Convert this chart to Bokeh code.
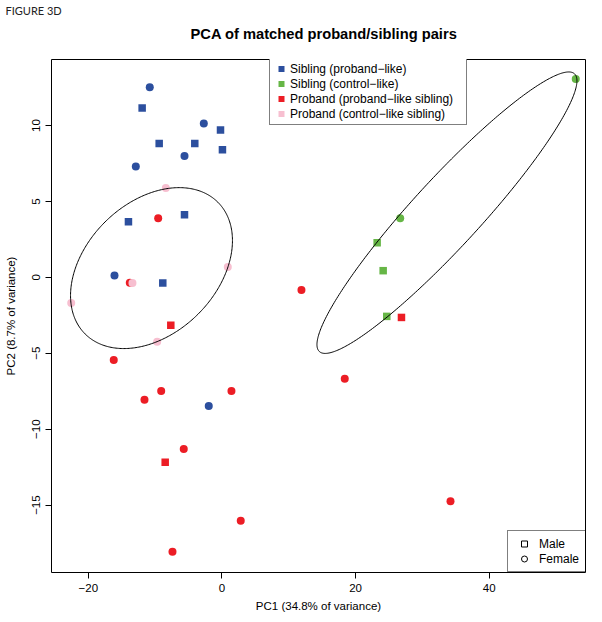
import numpy as np
import pandas as pd
from bokeh.plotting import figure
from bokeh.models import Range1d, FixedTicker, Legend, LegendItem, Title, ColumnDataSource
from bokeh.embed import file_html
from bokeh.resources import INLINE

# ---------------- data ----------------
pc1 = [
    # Sibling (proband-like)
    -10.81, -11.95, -2.72, -0.22, -9.40, -4.07, 0.07, -5.61, -12.90, -5.61, -14.00, -16.09, -8.86, -1.98,
    # Sibling (control-like)
    52.96, 26.68, 23.23, 24.13, 24.67,
    # Proband (proband-like sibling)
    -9.55, -13.80, -7.66, -16.20, -9.10, 1.42, -11.60, -5.72, -8.50, 2.81, -7.41, 26.87, 11.90, 18.38, 34.21,
    # Proband (control-like sibling)
    -8.41, 0.87, -13.40, -22.57, -9.70,
]
pc2 = [
    12.52, 11.15, 10.14, 9.71, 8.81, 8.81, 8.41, 7.99, 7.31, 4.13, 3.67, 0.13, -0.37, -8.48,
    13.06, 3.89, 2.28, 0.44, -2.57,
    3.89, -0.35, -3.16, -5.45, -7.49, -7.49, -8.06, -11.31, -12.17, -16.03, -18.08, -2.64, -0.84, -6.68, -14.74,
    5.88, 0.68, -0.37, -1.69, -4.24,
]
group = (["sib_pl"] * 14) + (["sib_cl"] * 5) + (["pro_pl"] * 15) + (["pro_cl"] * 5)
sex = [
    "F", "M", "F", "M", "M", "M", "M", "F", "F", "M", "M", "F", "M", "F",
    "F", "F", "M", "M", "M",
    "F", "F", "M", "F", "F", "F", "F", "F", "M", "F", "F", "M", "F", "F", "F",
    "F", "F", "F", "F", "F",
]

group_keys = ["sib_pl", "sib_cl", "pro_pl", "pro_cl"]
group_labels = [
    "Sibling (proband\u2212like)",
    "Sibling (control\u2212like)",
    "Proband (proband\u2212like sibling)",
    "Proband (control\u2212like sibling)",
]
group_colors = ["#2C4F9E", "#66B646", "#EC1D25", "#F7BFD0"]

sex_keys = ["M", "F"]
sex_labels = ["Male", "Female"]
sex_markers = ["square", "circle"]

# data ellipses: centre, spread along PC1/PC2 and correlation
ell_cx = [-10.55, 33.68]
ell_cy = [0.61, 4.26]
ell_sx = [12.12, 19.46]
ell_sy = [5.30, 9.27]
ell_r = [0.342, 0.937]

x_ticks = [-20, 0, 20, 40]
y_ticks = [-15, -10, -5, 0, 5, 10]

title_text = "PCA of matched proband/sibling pairs"
figure_tag = "FIGURE 3D"
x_label = "PC1 (34.8% of variance)"
y_label = "PC2 (8.7% of variance)"

# ---------------- figure ----------------
df = pd.DataFrame({"pc1": pc1, "pc2": pc2, "group": group, "sex": sex})

FONT = "Liberation Sans"

p = figure(
    width=586, height=614,
    output_backend="svg", toolbar_location=None,
    x_range=Range1d(-25.52, 54.42), y_range=Range1d(-19.44, 14.35),
    min_border_left=51, min_border_right=1, min_border_top=59, min_border_bottom=42,
    title=figure_tag,
)
p.background_fill_color = "white"
p.border_fill_color = "white"
p.grid.visible = False
p.outline_line_color = "black"
p.outline_line_width = 1

# outer title: the figure tag at the top-left corner
p.title.text_font = "Lato"
p.title.text_font_size = "11px"
p.title.text_font_style = "normal"
p.title.text_color = "#222222"
p.title.align = "left"
p.title.offset = -46
p.title.standoff = -15

# inner title: the chart title (placed where the reference has it)
p.add_layout(Title(text=title_text, align="left", offset=139, vertical_align="top", standoff=32,
                   text_font=FONT, text_font_size="14.7px", text_font_style="bold",
                   text_color="black"), "above")

p.xaxis.ticker = FixedTicker(ticks=x_ticks)
p.yaxis.ticker = FixedTicker(ticks=y_ticks)
p.xaxis.major_label_overrides = {t: str(t).replace("-", "\u2212") for t in x_ticks}
p.yaxis.major_label_overrides = {t: str(t).replace("-", "\u2212") for t in y_ticks}
p.axis.axis_line_color = None
p.axis.minor_tick_line_color = None
p.axis.major_tick_out = 6
p.axis.major_tick_in = 0
p.axis.major_tick_line_color = "black"
p.axis.major_label_text_font = FONT
p.axis.major_label_text_font_size = "11.5px"
p.axis.major_label_text_color = "black"
p.xaxis.major_label_standoff = 5
p.yaxis.major_label_standoff = 5
p.yaxis.major_label_orientation = "vertical"

p.xaxis.axis_label = x_label
p.yaxis.axis_label = y_label
p.axis.axis_label_text_font = FONT
p.axis.axis_label_text_font_size = "11.5px"
p.axis.axis_label_text_font_style = "normal"
p.axis.axis_label_text_color = "black"
p.xaxis.axis_label_standoff = 5
p.yaxis.axis_label_standoff = 13

# points
marker_size = {"square": 7.5, "circle": 8}
for gk, col in zip(group_keys, group_colors):
    for sk, mk in zip(sex_keys, sex_markers):
        sub = df[(df["group"] == gk) & (df["sex"] == sk)]
        if len(sub) == 0:
            continue
        p.scatter("pc1", "pc2", source=ColumnDataSource(sub), marker=mk,
                  size=marker_size[mk], fill_color=col, line_color=None)

# ellipses
t = np.linspace(0, 2 * np.pi, 361)
for cx, cy, sx, sy, r in zip(ell_cx, ell_cy, ell_sx, ell_sy, ell_r):
    ex = cx + sx * np.cos(t)
    ey = cy + sy * (r * np.cos(t) + np.sqrt(1 - r * r) * np.sin(t))
    p.line(ex, ey, line_color="black", line_width=1)

# hidden renderers that only provide the legend keys
grp_items = []
for gk, lab, col in zip(group_keys, group_labels, group_colors):
    sub = df[df["group"] == gk]
    rr = p.scatter("pc1", "pc2", source=ColumnDataSource(sub), marker="square",
                   fill_color=col, line_color=None, visible=False)
    grp_items.append(LegendItem(label=lab, renderers=[rr]))
sex_items = []
for sk, lab, mk in zip(sex_keys, sex_labels, sex_markers):
    sub = df[df["sex"] == sk]
    rr = p.scatter("pc1", "pc2", source=ColumnDataSource(sub), marker=mk,
                   fill_color=None, line_color="black", line_width=1, visible=False)
    sex_items.append(LegendItem(label=lab, renderers=[rr]))

common = dict(margin=0, border_line_color="black", border_line_width=1,
              background_fill_color="white", background_fill_alpha=1,
              inactive_fill_alpha=0, click_policy="none",
              label_text_font=FONT, label_text_font_size="12px", label_text_color="black")

leg1 = Legend(items=grp_items, location=(218, 447), padding=3, spacing=0,
              glyph_width=16, glyph_height=15, label_height=15, label_width=173,
              label_standoff=1, **common)
leg2 = Legend(items=sex_items, location=(456, 0), padding=5, spacing=0,
              glyph_width=22, glyph_height=15, label_height=15, label_width=42,
              label_standoff=4, **common)
p.add_layout(leg1)
p.add_layout(leg2)

open("out.html", "w").write(file_html(p, INLINE))
